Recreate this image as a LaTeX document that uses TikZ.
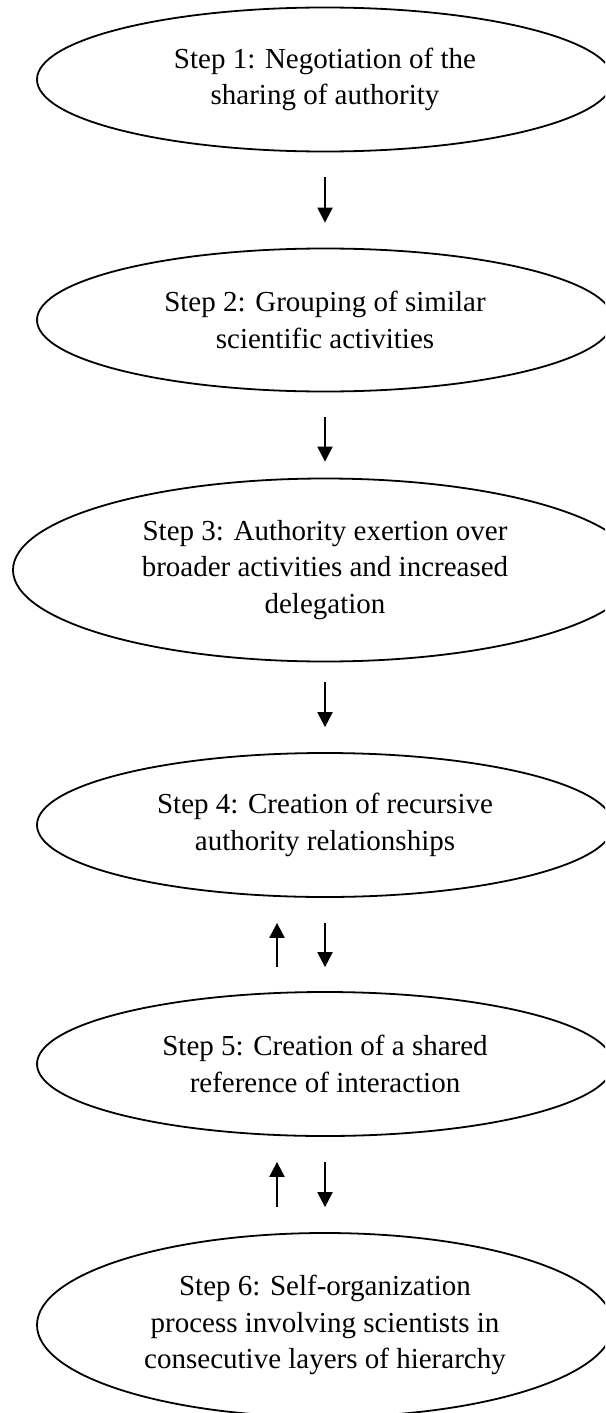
\documentclass[tikz,border=0pt]{standalone}
\usepackage{fontspec}
\setmainfont{Liberation Serif}
\usetikzlibrary{shapes.geometric,arrows.meta}
\begin{document}
\begin{tikzpicture}[x=1pt,y=-1pt,
  stepnode/.style={draw, line width=1.8pt, ellipse, inner sep=0pt, align=center,
    font=\fontsize{29}{36.5}\selectfont},
  arr/.style={line width=2.2pt, -{Triangle[width=15pt,length=15pt]}}]
\useasboundingbox (0,0) rectangle (605,1413);
\clip (0,0) rectangle (605,1413);

% the six steps
\node[stepnode, minimum width=576pt, minimum height=144pt] (s1) at (325,79.5)
  {Step 1: Negotiation of the\\sharing of authority};
\node[stepnode, minimum width=576pt, minimum height=143pt] (s2) at (325,320)
  {Step 2: Grouping of similar\\scientific activities};
\node[stepnode, minimum width=624pt, minimum height=183pt] (s3) at (325,570)
  {Step 3: Authority exertion over\\broader activities and increased\\delegation};
\node[stepnode, minimum width=576pt, minimum height=144pt] (s4) at (325,825)
  {Step 4: Creation of recursive\\authority relationships};
\node[stepnode, minimum width=576pt, minimum height=144pt] (s5) at (325,1064)
  {Step 5: Creation of a shared\\reference of interaction};
\node[stepnode, minimum width=576pt, minimum height=184pt] (s6) at (325,1325)
  {Step 6: Self-organization\\process involving scientists in\\consecutive layers of hierarchy};

% connectors
\draw[arr, shorten <=25pt, shorten >=25pt] (s1.south) -- (s2.north);
\draw[arr, shorten <=25pt, shorten >=16pt] (s2.south) -- (s3.north);
\draw[arr, shorten <=20pt, shorten >=25pt] (s3.south) -- (s4.north);
\draw[arr, shorten <=25pt, shorten >=24pt] (s4.south) -- (s5.north);
\draw[arr, shorten <=24pt, shorten >=25pt] ([xshift=-48pt]s5.north) -- ([xshift=-48pt]s4.south);
\draw[arr, shorten <=25pt, shorten >=25pt] (s5.south) -- (s6.north);
\draw[arr, shorten <=25pt, shorten >=25pt] ([xshift=-48pt]s6.north) -- ([xshift=-48pt]s5.south);
\end{tikzpicture}
\end{document}
